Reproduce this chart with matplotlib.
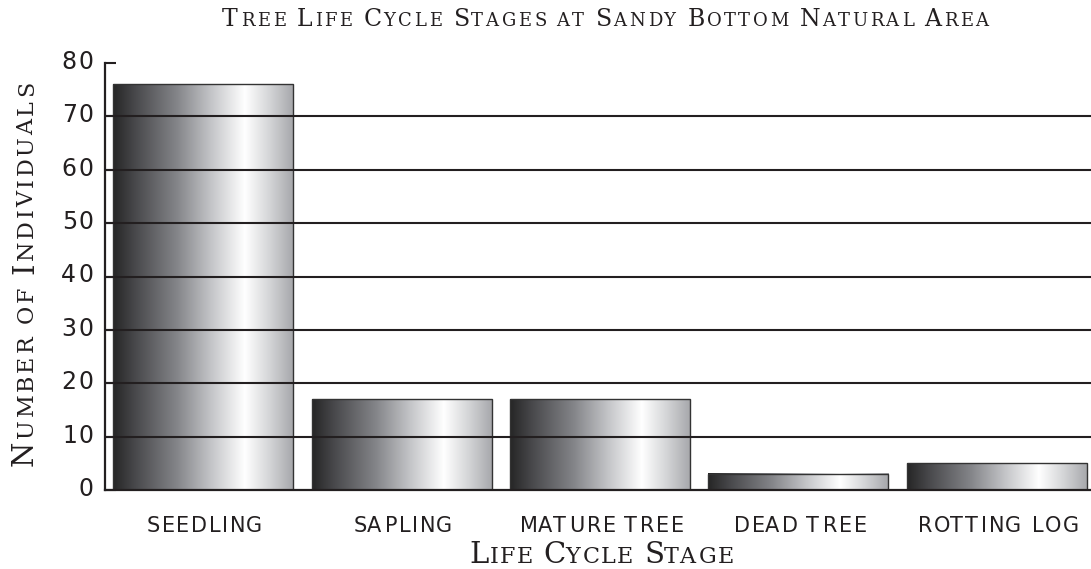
import numpy as np
import matplotlib
matplotlib.use("Agg")
import matplotlib.pyplot as plt
from matplotlib.colors import LinearSegmentedColormap
from matplotlib.transforms import IdentityTransform
from matplotlib.font_manager import FontProperties, findfont, get_font

# data
stages = ["SEEDLING", "SAPLING", "MATURE TREE", "DEAD TREE", "ROTTING LOG"]
counts = [76, 17, 17, 3, 5]
y_ticks = [0, 10, 20, 30, 40, 50, 60, 70, 80]

title = "Tree Life Cycle Stages at Sandy Bottom Natural Area"
x_title = "Life Cycle Stage"
y_title = "Number of Individuals"

INK = "#231f20"
SERIF = "DejaVu Serif"
SANS = "DejaVu Sans"

W, H = 1091, 569
fig = plt.figure(figsize=(W / 100, H / 100), dpi=100)
ax = fig.add_axes([105 / W, 79 / H, 986 / W, 427 / H])


def glyph_metrics(c, size, family):
    # advance and left side bearing in pixels, straight from the font
    font = get_font(findfont(FontProperties(family=family)))
    font.set_size(size, fig.dpi)
    g = font.load_char(ord(c))
    return g.linearHoriAdvance / 65536, g.horiBearingX / 64


def caps_runs(s, big, small):
    # fake small caps: capital letters big, the rest small capitals
    runs = []
    for i, word in enumerate(s.split(" ")):
        if i:
            runs.append((" ", small))
        if word[0].isupper():
            runs.append((word[0], big))
            word = word[1:]
        if word:
            runs.append((word.upper(), small))
    return runs


def spaced_text(x, y, runs, family, width=None, track=0.0, ha="center", rotation=0):
    # Copperplate-like wide lettering: place each character with extra tracking
    chars = [(c, size) for s, size in runs for c in s]
    mets = [glyph_metrics(c, size, family) for c, size in chars]
    advs = [m[0] for m in mets]
    n = len(chars)
    gap = track if width is None or n < 2 else (width - sum(advs)) / (n - 1)
    total = sum(advs) + gap * (n - 1)
    pos = {"left": 0, "center": -total / 2, "right": -total}[ha]
    for (c, size), (a, lsb) in zip(chars, mets):
        if c != " ":
            p = pos + lsb
            px, py = (x, y + p) if rotation else (x + p, y)
            fig.text(px, py, c, size=size, family=family, color=INK,
                     ha="left", va="baseline", rotation=rotation,
                     rotation_mode="anchor", transform=IdentityTransform())
        pos += a + gap


# gradient bars
cmap = LinearSegmentedColormap.from_list("bar", [
    (0.0, "#262626"), (0.12, "#48484b"), (0.35, "#838488"),
    (0.55, "#c6c7ca"), (0.73, "#ffffff"), (0.87, "#d3d4d6"),
    (1.0, "#a6a7ab")])
grad = np.linspace(0, 1, 256)[None, :]

xpos = np.arange(len(stages))
bars = ax.bar(xpos, counts, width=0.907, facecolor="none",
              edgecolor="#333333", linewidth=1.0, zorder=3)
for b in bars:
    ax.imshow(grad, cmap=cmap, aspect="auto", interpolation="bilinear",
              extent=(b.get_x(), b.get_x() + b.get_width(), 0, b.get_height()),
              zorder=2)

ax.set_xlim(-0.494, len(stages) - 1 + 0.474)
ax.set_ylim(0, 80)

# horizontal rules over the bars
ax.hlines(y_ticks[1:-1], 0, 1, transform=ax.get_yaxis_transform(),
          color=INK, linewidth=1.5, zorder=4)

for side in ["top", "right"]:
    ax.spines[side].set_visible(False)
for side in ["left", "bottom"]:
    ax.spines[side].set_linewidth(1.6)
    ax.spines[side].set_color(INK)
    ax.spines[side].set_zorder(5)

ax.set_yticks(y_ticks)
ax.tick_params(axis="y", direction="in", length=8, width=1.5, color=INK,
               labelleft=False)
ax.set_xticks(xpos)
ax.tick_params(axis="x", length=0, labelbottom=False)

# tick labels
for v in y_ticks:
    ty = ax.transData.transform((0, v))[1]
    spaced_text(92, ty - 6, [(str(v), 17)], SANS, track=2, ha="right")
for i, name in enumerate(stages):
    tx = ax.transData.transform((i, 0))[0]
    spaced_text(tx, H - 532, [(name, 15)], SANS, track=1.6)

spaced_text(605, H - 26, caps_runs(title, 17, 13), SERIF, width=766)
spaced_text(600, H - 563, caps_runs(x_title, 21, 16), SERIF, width=265)
spaced_text(33, H - 275, caps_runs(y_title, 21, 16), SERIF, width=384, rotation=90)

fig.savefig("out.png", dpi=100)
